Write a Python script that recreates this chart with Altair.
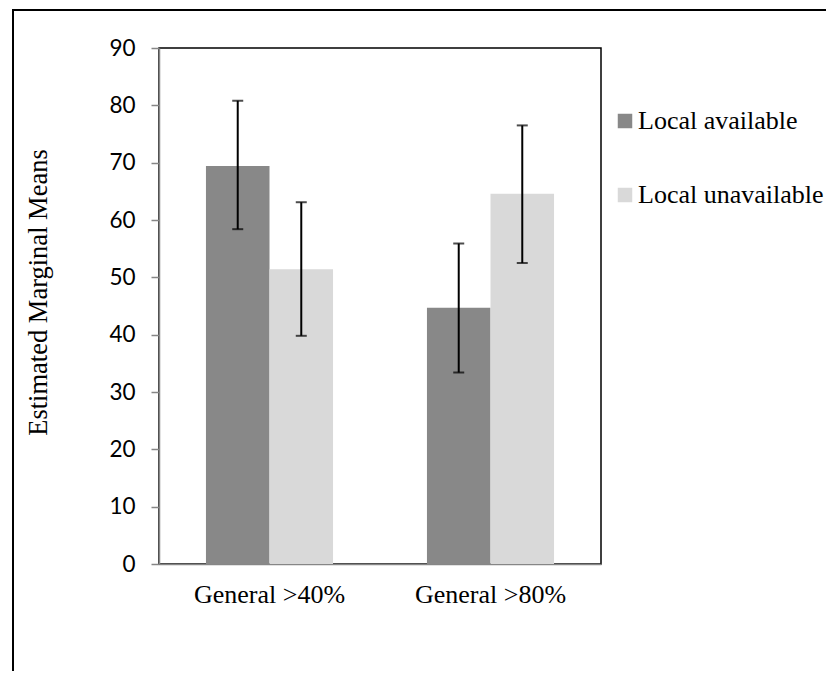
import altair as alt
import pandas as pd

categories = ["General >40%", "General >40%", "General >80%", "General >80%"]
groups = ["Local available", "Local unavailable", "Local available", "Local unavailable"]
means = [69.4, 51.4, 44.7, 64.6]
lower = [58.4, 39.8, 33.4, 52.5]
upper = [80.8, 63.1, 55.9, 76.5]

df = pd.DataFrame({"cat": categories, "grp": groups, "mean": means, "lo": lower, "hi": upper})

W, H = 442, 516
SERIF = "Liberation Serif"
SANS = "Lato"
CAT_ORDER = ["General >40%", "General >80%"]
GRP_ORDER = ["Local available", "Local unavailable"]

x_enc = alt.X("cat:N", title=None, sort=CAT_ORDER,
              scale=alt.Scale(paddingInner=0.425, paddingOuter=0.2125),
              axis=alt.Axis(ticks=False, labelFont=SERIF, labelFontSize=26, labelColor="black",
                            labelPadding=17, domainColor="#868686", domainWidth=1.5, labelAngle=0))
xo_enc = alt.XOffset("grp:N", sort=GRP_ORDER, scale=alt.Scale(paddingInner=0, paddingOuter=0))
y_scale = alt.Scale(domain=[0, 90], nice=False)

bars = alt.Chart(df).mark_bar().encode(
    x=x_enc,
    xOffset=xo_enc,
    y=alt.Y("mean:Q", scale=y_scale, title="Estimated Marginal Means",
            axis=alt.Axis(values=list(range(0, 91, 10)), grid=False, domainColor="#868686",
                          domainWidth=1.5, tickColor="#868686", tickWidth=1.5, tickSize=8,
                          labelFont=SANS, labelFontSize=22.5, labelColor="black", labelPadding=16,
                          titleFont=SERIF, titleFontSize=26.5, titleFontWeight="normal",
                          titleColor="black", titlePadding=56, titleY=244, titleAlign="center")),
    color=alt.Color("grp:N", sort=GRP_ORDER,
                    scale=alt.Scale(domain=GRP_ORDER, range=["#888888", "#D9D9D9"]),
                    legend=alt.Legend(title=None, orient="none", legendX=453, legendY=60,
                                      symbolType="square", symbolSize=210, symbolStrokeWidth=0,
                                      labelFont=SERIF, labelFontSize=26, labelColor="black",
                                      labelOffset=0, rowPadding=48, labelLimit=0)),
)

err = alt.Chart(df).mark_rule(color="black", strokeWidth=2).encode(
    x=alt.X("cat:N", sort=CAT_ORDER),
    xOffset=xo_enc,
    y=alt.Y("lo:Q", scale=y_scale),
    y2="hi:Q",
)
cap_hi = alt.Chart(df).mark_tick(color="black", thickness=2, size=11, orient="horizontal").encode(
    x=alt.X("cat:N", sort=CAT_ORDER),
    xOffset=xo_enc,
    y=alt.Y("hi:Q", scale=y_scale),
)
cap_lo = alt.Chart(df).mark_tick(color="black", thickness=2, size=11, orient="horizontal").encode(
    x=alt.X("cat:N", sort=CAT_ORDER),
    xOffset=xo_enc,
    y=alt.Y("lo:Q", scale=y_scale),
)

frame = alt.Chart(pd.DataFrame({"f": [0]})).mark_rect(filled=False, stroke="black", strokeWidth=2).encode(
    x=alt.value(-146), x2=alt.value(1200), y=alt.value(-38), y2=alt.value(1200)
)

chart = alt.layer(bars, err, cap_hi, cap_lo, frame).properties(
    width=W, height=H,
    autosize=alt.AutoSizeParams(type="none"),
    padding={"left": 151, "top": 40, "right": 225, "bottom": 107},
    background="white",
).configure_view(stroke="black", strokeWidth=1.5)

chart.save("out.html", embed_options={"renderer": "svg", "actions": False})
